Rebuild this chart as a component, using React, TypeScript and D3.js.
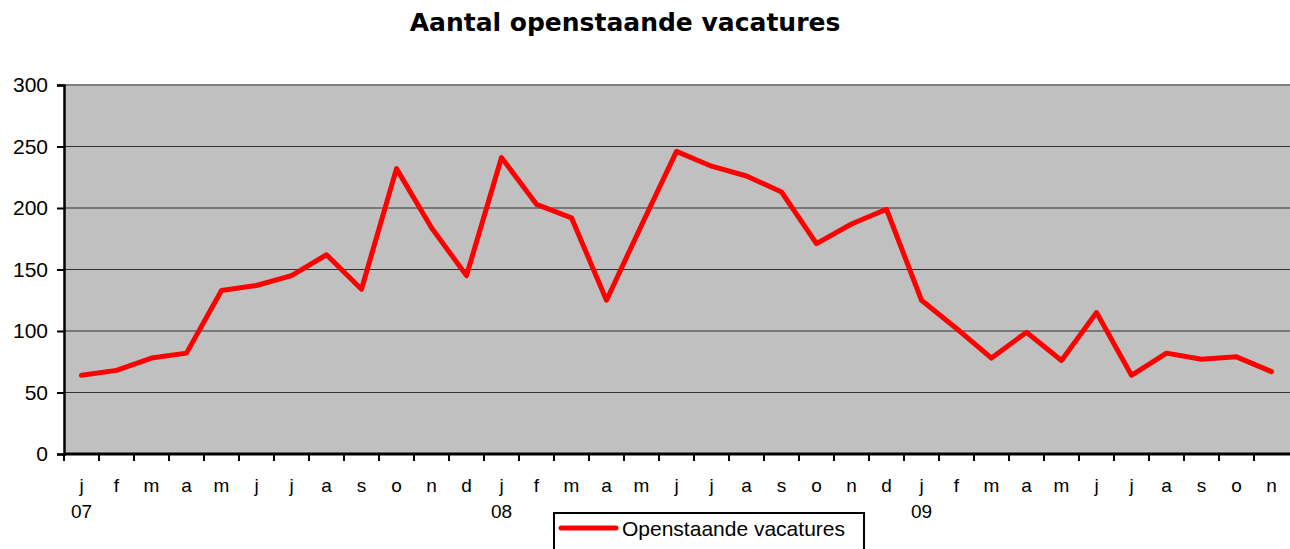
import { useRef, useEffect } from "react";
import * as d3 from "d3";

const months = [
  "j", "f", "m", "a", "m", "j", "j", "a", "s", "o", "n", "d",
  "j", "f", "m", "a", "m", "j", "j", "a", "s", "o", "n", "d",
  "j", "f", "m", "a", "m", "j", "j", "a", "s", "o", "n",
];
const yearLabels = ["07", "08", "09"];
const vacatures = [
  64, 68, 78, 82, 133, 137, 145, 162, 134, 232, 184, 145,
  241, 203, 192, 125, 186, 246, 234, 226, 213, 171, 187, 199,
  125, 102, 78, 99, 76, 115, 64, 82, 77, 79, 67,
];
const yTicks = [0, 50, 100, 150, 200, 250, 300];
const title = "Aantal openstaande vacatures";
const seriesName = "Openstaande vacatures";

export default function App() {
  const svgRef = useRef<SVGSVGElement>(null);

  useEffect(() => {
    const svg = d3.select(svgRef.current);
    svg.selectAll("*").remove();

    const width = 1290;
    const height = 549;
    const margin = { top: 85, right: 1, bottom: 95, left: 64 };
    const font = "Liberation Sans, Arial, sans-serif";

    const idx = months.map((_, i) => i);
    const x = d3
      .scaleBand<number>()
      .domain(idx)
      .range([margin.left, width - margin.right]);
    const y = d3
      .scaleLinear()
      .domain([0, 300])
      .range([height - margin.bottom, margin.top]);

    svg.attr("width", width).attr("height", height);

    // plot area
    svg
      .append("rect")
      .attr("x", margin.left)
      .attr("y", margin.top)
      .attr("width", width - margin.left)
      .attr("height", y(0) - margin.top)
      .attr("fill", "#c0c0c0");

    svg
      .append("line")
      .attr("x1", margin.left)
      .attr("x2", width)
      .attr("y1", margin.top)
      .attr("y2", margin.top)
      .attr("stroke", "#808080")
      .attr("stroke-width", 2);

    // gridlines
    svg
      .append("g")
      .selectAll("line")
      .data(yTicks.filter((t) => t > 0 && t < 300))
      .join("line")
      .attr("x1", margin.left)
      .attr("x2", width)
      .attr("y1", (d) => y(d))
      .attr("y2", (d) => y(d))
      .attr("stroke", "#303030")
      .attr("stroke-width", 1.2);

    // y axis
    const yAxis = svg
      .append("g")
      .attr("transform", `translate(${margin.left},0)`)
      .call(d3.axisLeft(y).tickValues(yTicks).tickSize(7).tickPadding(9));
    yAxis.select(".domain").attr("stroke", "#000").attr("stroke-width", 2.5);
    yAxis.selectAll(".tick line").attr("stroke", "#000").attr("stroke-width", 2);
    yAxis
      .selectAll("text")
      .attr("font-family", font)
      .attr("font-size", 21)
      .attr("fill", "#000");

    // x axis
    const xAxisG = svg.append("g").attr("transform", `translate(0,${y(0)})`);
    xAxisG
      .append("line")
      .attr("x1", margin.left)
      .attr("x2", width)
      .attr("stroke", "#000")
      .attr("stroke-width", 3);
    const bounds = idx.map((i) => x(i) as number);
    xAxisG
      .selectAll("line.tick")
      .data(bounds)
      .join("line")
      .attr("class", "tick")
      .attr("x1", (d) => d)
      .attr("x2", (d) => d)
      .attr("y1", 0)
      .attr("y2", 7)
      .attr("stroke", "#000")
      .attr("stroke-width", 2);

    xAxisG
      .selectAll("text.month")
      .data(months)
      .join("text")
      .attr("class", "month")
      .attr("x", (_, i) => (x(i) as number) + x.bandwidth() / 2)
      .attr("y", 38)
      .attr("text-anchor", "middle")
      .attr("font-family", font)
      .attr("font-size", 19)
      .text((d) => d);

    xAxisG
      .selectAll("text.year")
      .data(yearLabels)
      .join("text")
      .attr("class", "year")
      .attr("x", (_, i) => (x(i * 12) as number) + x.bandwidth() / 2)
      .attr("y", 64)
      .attr("text-anchor", "middle")
      .attr("font-family", font)
      .attr("font-size", 19)
      .text((d) => d);

    // line
    const line = d3
      .line<number>()
      .x((_, i) => (x(i) as number) + x.bandwidth() / 2)
      .y((d) => y(d));
    svg
      .append("path")
      .datum(vacatures)
      .attr("d", line)
      .attr("fill", "none")
      .attr("stroke", "#ff0000")
      .attr("stroke-width", 5)
      .attr("stroke-linejoin", "round")
      .attr("stroke-linecap", "round");

    // title
    svg
      .append("text")
      .attr("x", 625)
      .attr("y", 31)
      .attr("text-anchor", "middle")
      .attr("font-family", "DejaVu Sans, Verdana, sans-serif")
      .attr("font-weight", "bold")
      .attr("font-size", 25)
      .text(title);

    // legend
    const legend = svg.append("g").attr("transform", "translate(554,513)");
    legend
      .append("rect")
      .attr("width", 310)
      .attr("height", 60)
      .attr("fill", "#fff")
      .attr("stroke", "#000")
      .attr("stroke-width", 2);
    legend
      .append("line")
      .attr("x1", 7)
      .attr("x2", 62)
      .attr("y1", 15)
      .attr("y2", 15)
      .attr("stroke", "#ff0000")
      .attr("stroke-width", 5)
      .attr("stroke-linecap", "round");
    legend
      .append("text")
      .attr("x", 68)
      .attr("y", 23)
      .attr("font-family", font)
      .attr("font-size", 21)
      .text(seriesName);
  }, []);

  return (
    <svg
      ref={svgRef}
      style={{ position: "absolute", left: 0, top: 0, display: "block" }}
    />
  );
}
